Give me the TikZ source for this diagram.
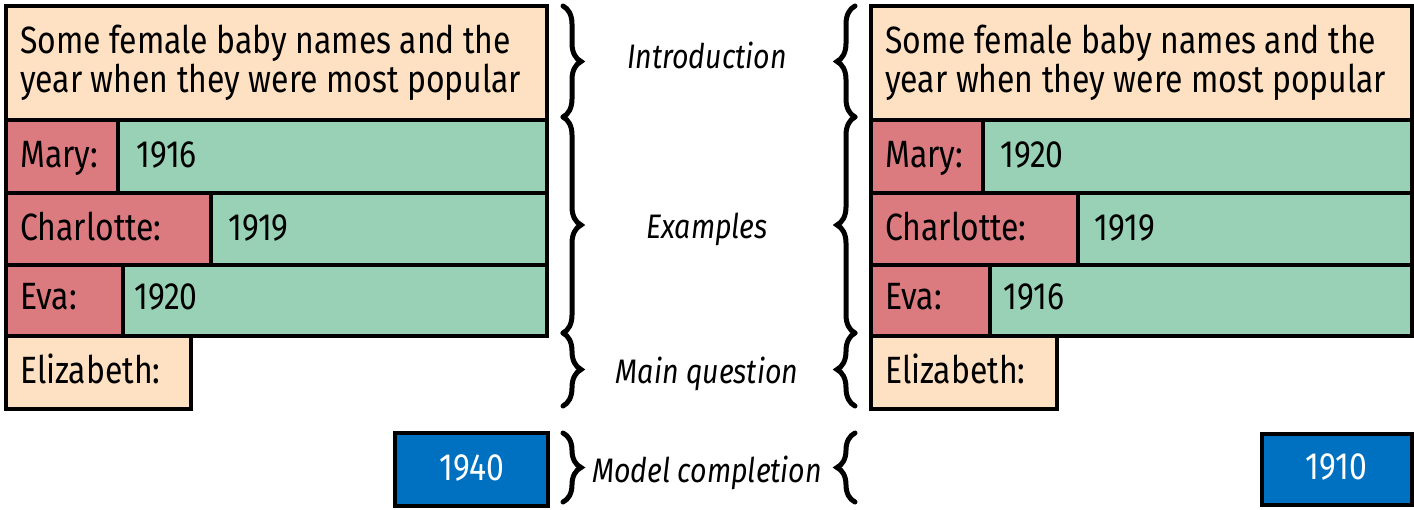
\documentclass[tikz,border=0pt]{standalone}
\usepackage{fontspec}
\setmainfont[FakeStretch=0.84]{Fira Sans}
\usetikzlibrary{decorations.pathreplacing}
\definecolor{peach}{HTML}{FEE0C2}
\definecolor{rose}{HTML}{DB7B80}
\definecolor{mint}{HTML}{99D1B7}
\definecolor{ablue}{HTML}{0070C0}
\tikzset{
  box/.style={draw=black, line width=3.6pt, inner sep=0pt, anchor=north west},
  txt/.style={anchor=base west, inner sep=0pt, font=\fontsize{38}{44}\selectfont},
  lbl/.style={anchor=base, inner sep=0pt, font=\fontsize{34}{40}\selectfont\itshape},
  brc/.style={decorate, decoration={brace, amplitude=18pt, aspect=0.5}, line width=5pt, line cap=round},
}
\begin{document}
\begin{tikzpicture}[x=1pt,y=-1pt]
\useasboundingbox (0,0) rectangle (1414,509);
% ---------- left panel ----------
\node[box, fill=peach, minimum width=541pt, minimum height=114pt] (Lintro) at (4,4) {};
\node[box, fill=mint, minimum width=541pt, minimum height=73pt] (Lr1) at (4,118) {};
\node[box, fill=rose, minimum width=112pt, minimum height=73pt] (Ln1) at (4,118) {};
\node[box, fill=mint, minimum width=541pt, minimum height=72pt] (Lr2) at (4,191) {};
\node[box, fill=rose, minimum width=205pt, minimum height=72pt] (Ln2) at (4,191) {};
\node[box, fill=mint, minimum width=541pt, minimum height=71pt] (Lr3) at (4,263) {};
\node[box, fill=rose, minimum width=117pt, minimum height=71pt] (Ln3) at (4,263) {};
\node[box, fill=peach, minimum width=185pt, minimum height=73pt] (Lq) at (4,334) {};
\node[box, fill=ablue, minimum width=153pt, minimum height=73pt] (Lc) at (393,431) {};
\node[txt] (Lt1) at (20,53) {Some female baby names and the};
\node[txt] (Lt2) at (20,92) {year when they were most popular};
\node[txt] (Lm) at (20,167) {Mary:};
\node[txt] (Lmy) at (136,167) {1916};
\node[txt] (Lc2) at (20,240) {Charlotte:};
\node[txt] (Lcy) at (228,240) {1919};
\node[txt] (Le) at (20,309) {Eva:};
\node[txt] (Ley) at (134,309) {1920};
\node[txt] (Lel) at (20,383) {Elizabeth:};
\node[txt, anchor=base, text=white] (Lans) at (472,480) {1940};
% ---------- right panel ----------
\node[box, fill=peach, minimum width=541pt, minimum height=114pt] (Rintro) at (869,4) {};
\node[box, fill=mint, minimum width=541pt, minimum height=73pt] (Rr1) at (869,118) {};
\node[box, fill=rose, minimum width=112pt, minimum height=73pt] (Rn1) at (869,118) {};
\node[box, fill=mint, minimum width=541pt, minimum height=72pt] (Rr2) at (869,191) {};
\node[box, fill=rose, minimum width=207pt, minimum height=72pt] (Rn2) at (869,191) {};
\node[box, fill=mint, minimum width=541pt, minimum height=71pt] (Rr3) at (869,263) {};
\node[box, fill=rose, minimum width=119pt, minimum height=71pt] (Rn3) at (869,263) {};
\node[box, fill=peach, minimum width=186pt, minimum height=73pt] (Rq) at (869,334) {};
\node[box, fill=ablue, minimum width=150pt, minimum height=71pt] (Rc) at (1260,432) {};
\node[txt] (Rt1) at (885,53) {Some female baby names and the};
\node[txt] (Rt2) at (885,92) {year when they were most popular};
\node[txt] (Rm) at (885,167) {Mary:};
\node[txt] (Rmy) at (1000,167) {1920};
\node[txt] (Rc2) at (885,240) {Charlotte:};
\node[txt] (Rcy) at (1094,240) {1919};
\node[txt] (Re) at (885,309) {Eva:};
\node[txt] (Rey) at (1003,309) {1916};
\node[txt] (Rel) at (885,383) {Elizabeth:};
\node[txt, anchor=base, text=white] (Rans) at (1336,479) {1910};
% ---------- labels ----------
\node[lbl] (intro) at (707,68) {Introduction};
\node[lbl] (ex) at (707,238) {Examples};
\node[lbl] (mq) at (707,383) {Main question};
\node[lbl] (mc) at (707,482) {Model completion};
% ---------- braces ----------
\coordinate (lb0) at (563,6);
\coordinate (lb1) at (563,117);
\coordinate (lb2) at (563,333);
\coordinate (lb3) at (563,406);
\coordinate (lb4) at (563,433);
\coordinate (lb5) at (563,502);
\draw[brc] (lb0) -- (lb1);
\draw[brc] (lb1) -- (lb2);
\draw[brc] (lb2) -- (lb3);
\draw[brc] (lb4) -- (lb5);
\coordinate (rb0) at (855,6);
\coordinate (rb1) at (855,117);
\coordinate (rb2) at (855,333);
\coordinate (rb3) at (855,406);
\coordinate (rb4) at (855,433);
\coordinate (rb5) at (855,502);
\draw[brc] (rb1) -- (rb0);
\draw[brc] (rb2) -- (rb1);
\draw[brc] (rb3) -- (rb2);
\draw[brc] (rb5) -- (rb4);
\end{tikzpicture}
\end{document}
